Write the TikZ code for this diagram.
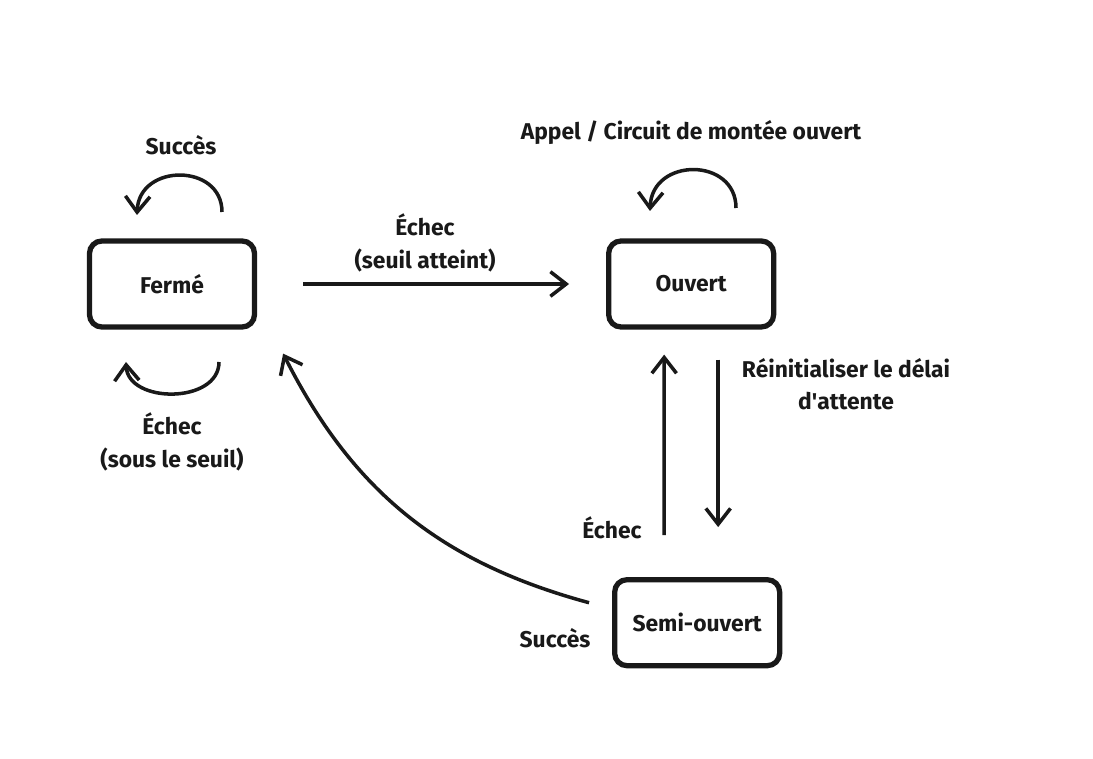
\documentclass[tikz,border=0pt]{standalone}
\usepackage{fontspec}
\setmainfont{Fira Sans}
\usetikzlibrary{positioning,arrows.meta}

\tikzset{
  state/.style={draw,rounded corners=7pt,line width=3pt,minimum width=3.3cm,
    minimum height=1.72cm,font=\fontsize{13}{15}\bfseries\selectfont},
  lbl/.style={align=center,font=\fontsize{13}{18.5}\bfseries\selectfont}
}

\begin{document}
\begin{tikzpicture}[->,>={Straight Barb[length=9pt,width=14pt]},x=0.02cm,y=-0.02cm,
		line width=2pt,color={black!90}]
		\useasboundingbox (0,0) rectangle (1093,759);
		\node[state] (fer) at (172,284) {Fermé};
		\node[state] (ouv) [right=6.98cm of fer] {Ouvert};
		\node[state] (semi) [below=4.95cm of ouv,xshift=0.12cm] {Semi-ouvert};

		% labels
		\node[lbl] (l_succes1) at (181,145) {Succès};
		\node[lbl] (l_echec1) at (172,442) {Échec\\(sous le seuil)};
		\node[lbl] (l_appel) at (691,133) {Appel / Circuit de montée ouvert};
		\node[lbl] (l_seuil) at (425,243) {Échec\\(seuil atteint)};
		\node[lbl] (l_reinit) at (846,384) {Réinitialiser le délai\\d\textquotesingle attente};
		\node[lbl] (l_echec2) at (612,528) {Échec};
		\node[lbl] (l_succes2) at (555,638) {Succès};

		% loops
		\coordinate (s1) at (222,212);
		\coordinate (e1) at (137,215);
		\coordinate (s2) at (219,362);
		\coordinate (e2) at (126,362);
		\coordinate (s3) at (736,208);
		\coordinate (e3) at (650,211);
		\draw (s1) .. controls (222,163) and (139,163) .. (e1);
		\draw (s2) .. controls (219,404) and (128,404) .. (e2);
		\draw (s3) .. controls (736,157) and (652,157) .. (e3);

		% transitions
		\draw[shorten <=0.92cm,shorten >=0.74cm] (fer) -- (ouv);
		\draw ([xshift=-0.66cm,yshift=0.84cm]semi.north) -- ([xshift=-0.54cm,yshift=-0.5cm]ouv.south);
		\draw ([xshift=0.54cm,yshift=-0.6cm]ouv.south) -- ([xshift=0.42cm,yshift=1cm]semi.north);
		\draw ([xshift=-0.46cm,yshift=0.4cm]semi.west) to[bend left=24]
			([xshift=0.52cm,yshift=-0.48cm]fer.south east);
\end{tikzpicture}
\end{document}
